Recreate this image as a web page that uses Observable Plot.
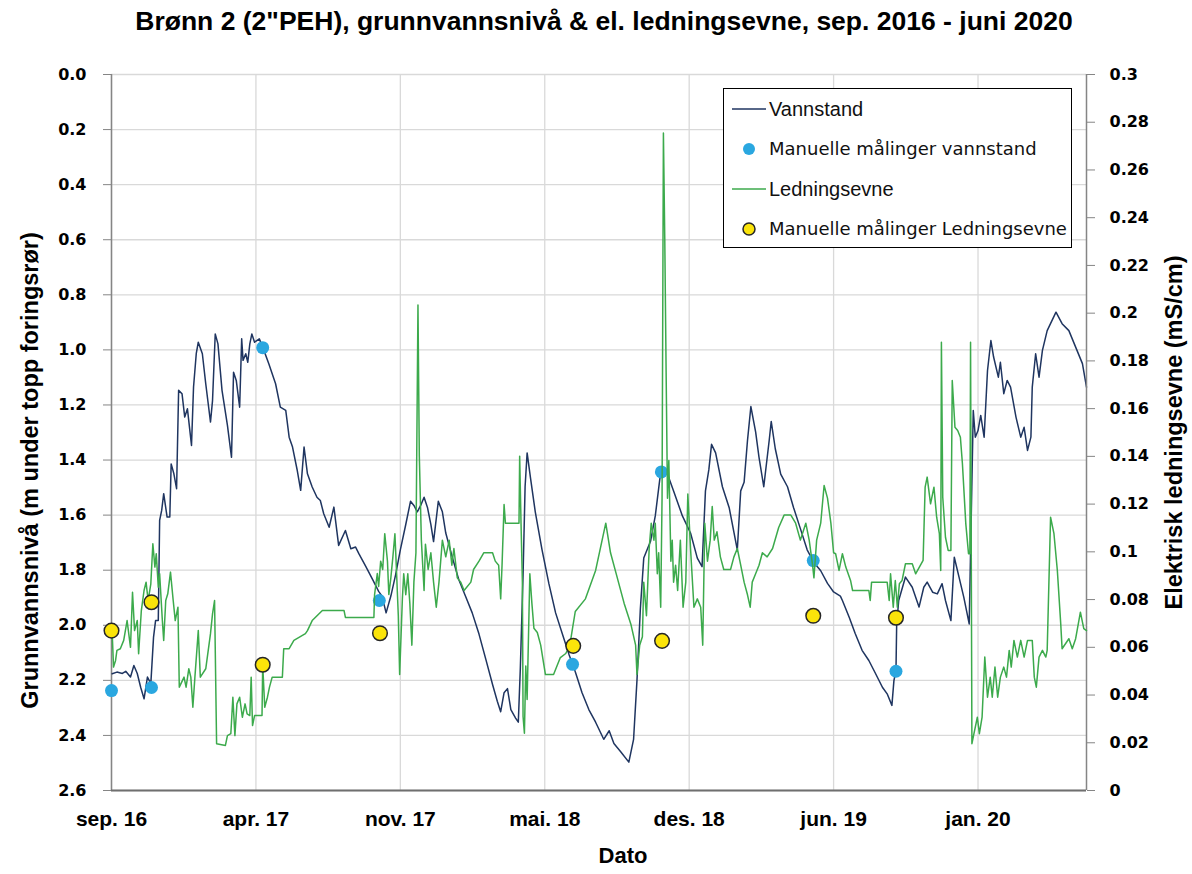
<!DOCTYPE html>
<html>
<head>
<meta charset="utf-8">
<script src="https://cdn.jsdelivr.net/npm/d3@7"></script>
<script src="https://cdn.jsdelivr.net/npm/@observablehq/plot@0.6"></script>
<style>
  body { margin: 0; background: #fff; }
  #wrap { position: relative; width: 1192px; height: 874px; overflow: hidden; background: #fff; }
  #title { position: absolute; left: 0; top: 6px; width: 1208px; text-align: center;
           font-family: "Liberation Sans", Arial, sans-serif;
           font-weight: bold; font-size: 26.5px; line-height: 30px; color: #000; }
  .layer { position: absolute; left: 0; top: 50px; }
  #legend { position: absolute; left: 723px; top: 88px; width: 347px; height: 158px;
            border: 1.5px solid #000; background: #fff; }
  .row { position: absolute; left: 0; height: 30px; width: 100%; }
  .row svg { position: absolute; left: 6px; top: 0; }
  .row span { position: absolute; left: 45px; top: 0; line-height: 30px; white-space: nowrap; color: #111; }
  .big { font-family: "Liberation Sans", Arial, sans-serif; font-size: 20px; }
  .small { font-family: "DejaVu Sans", Verdana, sans-serif; font-size: 18px; }
</style>
</head>
<body>
<div id="wrap">
  <div id="title"></div>
  <div id="p1" class="layer"></div>
  <div id="p2" class="layer"></div>
  <div id="legend"></div>
</div>
<script>
// ---------- data ----------
const titleText = "Brønn 2 (2\"PEH), grunnvannsnivå & el. ledningsevne, sep. 2016 - juni 2020";
const yLeftLabel = "Grunnvannsnivå (m under topp foringsrør)";
const yRightLabel = "Elektrisk ledningsevne (mS/cm)";
const xLabel = "Dato";
const legendLabels = ["Vannstand", "Manuelle målinger vannstand", "Ledningsevne", "Manuelle målinger Ledningsevne"];

// x: days since 2016-09-01
const startDate = "2016-09-01";
const xTickDays = [0, 213, 426, 639, 852, 1065, 1278];
const xTickLabels = ["sep. 16", "apr. 17", "nov. 17", "mai. 18", "des. 18", "jun. 19", "jan. 20"];
const xEndDay = 1438;
const depthTicks = [0, 0.2, 0.4, 0.6, 0.8, 1.0, 1.2, 1.4, 1.6, 1.8, 2.0, 2.2, 2.4, 2.6];
const ecTicks = [0, 0.02, 0.04, 0.06, 0.08, 0.1, 0.12, 0.14, 0.16, 0.18, 0.2, 0.22, 0.24, 0.26, 0.28, 0.3];

// Vannstand [day, m under topp foringsrør]
const vannstand = [
[1,2.176],[8,2.170],[16,2.175],[21,2.167],[28,2.188],[33,2.146],[38,2.175],[43,2.225],[48,2.267],[53,2.188],
[58,2.212],[62,2.043],[65,1.983],[69,1.983],[71,1.619],[74,1.583],[77,1.522],[82,1.607],[86,1.607],[88,1.414],
[92,1.450],[96,1.504],[99,1.147],[104,1.159],[108,1.244],[112,1.214],[118,1.347],[121,1.135],[125,1.014],[128,0.972],
[134,1.014],[139,1.123],[146,1.262],[149,1.184],[153,0.942],[157,0.978],[163,1.147],[171,1.274],[177,1.390],[180,1.081],
[184,1.111],[189,1.208],[192,0.960],[194,1.038],[198,1.014],[201,1.045],[204,0.978],[207,0.942],[211,0.972],[218,0.960],
[223,0.990],[232,1.050],[242,1.123],[249,1.208],[257,1.220],[262,1.317],[267,1.353],[274,1.438],[279,1.510],[284,1.353],
[289,1.450],[296,1.498],[303,1.535],[308,1.547],[313,1.595],[321,1.644],[328,1.571],[335,1.710],[345,1.656],[353,1.722],
[360,1.716],[365,1.741],[375,1.786],[385,1.833],[394,1.877],[399,1.894],[405,1.955],[412,1.894],[419,1.817],[426,1.726],
[434,1.634],[441,1.550],[446,1.565],[451,1.588],[456,1.565],[461,1.535],[466,1.572],[471,1.634],[475,1.696],[482,1.550],
[488,1.588],[493,1.665],[503,1.756],[512,1.833],[522,1.894],[532,1.955],[542,2.032],[552,2.123],[562,2.215],[569,2.276],
[574,2.314],[579,2.245],[584,2.230],[589,2.306],[596,2.337],[600,2.352],[603,2.154],[607,1.817],[610,1.497],[613,1.374],
[618,1.466],[625,1.588],[635,1.726],[645,1.848],[655,1.955],[665,2.032],[675,2.108],[684,2.169],[694,2.245],[704,2.306],
[714,2.352],[726,2.414],[734,2.383],[741,2.429],[751,2.459],[763,2.497],[770,2.414],[775,2.200],[780,1.940],[785,1.756],
[795,1.695],[802,1.603],[810,1.443],[820,1.451],[829,1.512],[842,1.603],[854,1.665],[864,1.756],[871,1.787],[876,1.512],
[881,1.435],[885,1.343],[891,1.374],[901,1.497],[911,1.573],[923,1.726],[928,1.512],[933,1.481],[938,1.329],[943,1.206],
[950,1.298],[955,1.390],[962,1.497],[970,1.329],[973,1.260],[979,1.359],[987,1.451],[997,1.497],[1006,1.573],[1016,1.649],
[1026,1.726],[1036,1.772],[1046,1.802],[1056,1.848],[1065,1.879],[1075,1.894],[1078,1.910],[1088,1.971],[1097,2.031],[1107,2.091],
[1117,2.128],[1127,2.176],[1137,2.225],[1144,2.249],[1151,2.291],[1154,2.200],[1157,2.167],[1158,2.000],[1161,1.910],[1171,1.825],
[1181,1.862],[1191,1.934],[1198,1.862],[1203,1.843],[1211,1.880],[1218,1.886],[1225,1.849],[1230,1.910],[1238,1.983],[1243,1.753],
[1250,1.825],[1257,1.898],[1265,1.995],[1271,1.220],[1274,1.317],[1278,1.293],[1282,1.238],[1287,1.317],[1292,1.075],[1297,0.966],
[1301,1.026],[1308,1.099],[1311,1.045],[1316,1.159],[1321,1.111],[1326,1.135],[1334,1.244],[1341,1.317],[1346,1.281],[1351,1.365],
[1356,1.317],[1358,1.135],[1363,1.014],[1368,1.099],[1373,1.002],[1380,0.930],[1393,0.863],[1402,0.905],[1412,0.930],[1422,0.990],
[1432,1.050],[1438,1.135]
];

// Manuelle målinger vannstand [day, m]
const manVannstand = [[0,2.237],[59,2.226],[223,0.992],[395,1.910],[680,2.142],[811,1.443],[1035,1.765],[1157,2.167]];

// Ledningsevne [day, mS/cm]
const ledningsevne = [
[1,0.0662],[3,0.0517],[6,0.0545],[8,0.0587],[13,0.0594],[18,0.0629],[23,0.0712],[28,0.0600],[31,0.0831],[34,0.0670],
[38,0.0712],[40,0.0573],[44,0.0754],[48,0.0838],[51,0.0873],[54,0.0796],[58,0.0866],[61,0.1034],[64,0.0936],[66,0.0992],
[69,0.0852],[71,0.0908],[75,0.0712],[77,0.0629],[80,0.0796],[83,0.0824],[87,0.0915],[91,0.0796],[94,0.0712],[98,0.0768],
[100,0.0433],[107,0.0475],[110,0.0433],[114,0.0510],[117,0.0475],[120,0.0349],[123,0.0475],[128,0.0670],[131,0.0475],[139,0.0510],
[146,0.0657],[149,0.0740],[152,0.0796],[155,0.0196],[168,0.0189],[171,0.0230],[176,0.0238],[179,0.0391],[182,0.0230],[185,0.0363],
[189,0.0391],[193,0.0307],[197,0.0363],[200,0.0321],[204,0.0314],[206,0.0475],[208,0.0272],[211,0.0314],[222,0.0314],[223,0.0528],
[226,0.0349],[230,0.0391],[233,0.0433],[237,0.0475],[252,0.0475],[254,0.0594],[262,0.0594],[269,0.0629],[286,0.0657],[289,0.0670],
[296,0.0712],[311,0.0754],[343,0.0754],[345,0.0725],[387,0.0725],[388,0.0821],[392,0.0909],[394,0.0855],[397,0.0961],[400,0.0926],
[403,0.1076],[407,0.0961],[409,0.0821],[412,0.0891],[415,0.0979],[418,0.1076],[420,0.0944],[423,0.0732],[425,0.0486],[429,0.0803],
[431,0.0908],[434,0.0820],[437,0.0908],[440,0.0785],[443,0.0609],[446,0.0873],[449,0.0996],[452,0.2034],[454,0.1401],[457,0.1049],
[461,0.0838],[463,0.1032],[467,0.0926],[471,0.0996],[475,0.0873],[479,0.0768],[483,0.0873],[488,0.1049],[493,0.0979],[498,0.1049],
[502,0.0944],[505,0.1014],[510,0.0891],[515,0.0873],[520,0.0838],[530,0.0873],[534,0.0926],[542,0.0961],[549,0.0996],[562,0.0996],
[566,0.0961],[571,0.0944],[574,0.0803],[576,0.0944],[579,0.1198],[581,0.1120],[601,0.1120],[602,0.1401],[604,0.1120],[606,0.0873],
[607,0.0310],[609,0.0240],[611,0.0522],[613,0.0381],[617,0.0908],[620,0.0785],[623,0.0680],[628,0.0662],[633,0.0609],[640,0.0486],
[652,0.0486],[657,0.0522],[662,0.0557],[670,0.0574],[676,0.0609],[680,0.0680],[684,0.0750],[699,0.0803],[714,0.0922],[729,0.1120],
[736,0.0996],[746,0.0891],[756,0.0785],[766,0.0697],[773,0.0609],[775,0.0486],[779,0.0609],[783,0.0644],[785,0.0873],[789,0.0732],
[793,0.1014],[796,0.1120],[800,0.1049],[802,0.1120],[805,0.0908],[807,0.0996],[810,0.0768],[812,0.1225],[814,0.2755],[816,0.2315],
[818,0.1752],[820,0.1225],[822,0.1383],[825,0.0961],[827,0.1049],[829,0.0873],[832,0.0944],[835,0.0838],[839,0.1049],[843,0.0768],
[847,0.0873],[850,0.1242],[854,0.1014],[859,0.0768],[864,0.0803],[869,0.0768],[872,0.0609],[875,0.1120],[879,0.0961],[883,0.1049],
[886,0.1190],[889,0.1049],[893,0.1084],[898,0.0979],[903,0.0926],[913,0.0926],[918,0.0979],[923,0.1014],[928,0.0944],[933,0.0873],
[938,0.0820],[942,0.0768],[945,0.0873],[950,0.0908],[955,0.0944],[960,0.0996],[967,0.0979],[975,0.1014],[984,0.1102],[992,0.1154],
[1002,0.1154],[1009,0.1120],[1016,0.1049],[1024,0.1120],[1029,0.1049],[1034,0.0944],[1036,0.0891],[1040,0.1049],[1046,0.1120],[1051,0.1278],
[1056,0.1225],[1061,0.1120],[1065,0.0996],[1068,0.0992],[1073,0.0922],[1078,0.0992],[1083,0.0936],[1090,0.0880],[1093,0.0838],[1117,0.0838],
[1119,0.0796],[1121,0.0873],[1144,0.0873],[1147,0.0796],[1149,0.0908],[1153,0.0768],[1156,0.0880],[1159,0.0768],[1162,0.0866],[1166,0.0880],
[1171,0.0950],[1181,0.0950],[1186,0.0908],[1197,0.0964],[1200,0.1271],[1203,0.1313],[1208,0.1201],[1213,0.1271],[1217,0.1145],[1221,0.1076],
[1223,0.0922],[1224,0.1878],[1226,0.1229],[1230,0.1061],[1234,0.1006],[1238,0.1006],[1240,0.1718],[1244,0.1522],[1248,0.1508],[1252,0.1480],
[1255,0.1369],[1260,0.1117],[1264,0.0992],[1266,0.0992],[1267,0.1878],[1269,0.0196],[1272,0.0238],[1277,0.0307],[1280,0.0238],[1284,0.0307],
[1288,0.0559],[1292,0.0391],[1296,0.0475],[1299,0.0391],[1303,0.0517],[1307,0.0391],[1311,0.0475],[1316,0.0517],[1320,0.0475],[1324,0.0587],
[1327,0.0517],[1331,0.0629],[1336,0.0559],[1341,0.0629],[1346,0.0559],[1351,0.0629],[1358,0.0629],[1361,0.0475],[1364,0.0433],[1368,0.0559],
[1373,0.0587],[1378,0.0559],[1380,0.0587],[1385,0.1145],[1390,0.1076],[1395,0.0922],[1400,0.0698],[1402,0.0594],[1412,0.0636],[1417,0.0594],
[1422,0.0636],[1429,0.0747],[1434,0.0678],[1438,0.0670]
];

// Manuelle målinger Ledningsevne [day, mS/cm]
const manLedningsevne = [[0,0.0670],[59,0.0789],[223,0.0527],[396,0.0659],[681,0.0606],[812,0.0627],[1035,0.0732],[1157,0.0724]];

// ---------- styles ----------
const colVann = "#1f3560";
const colManVann = "#2aa7e0";
const colLedn = "#3caa4c";
const colManLedn = "#fbe40a";
const gridCol = "#d9d9d9";
const axisCol = "#858585";
const sansFont = "Liberation Sans, Arial, sans-serif";
const wideFont = "DejaVu Sans, Verdana, sans-serif";

// ---------- build ----------
const DAY = 864e5;
const t0 = new Date(startDate + "T00:00:00Z").getTime();
const toDate = d => new Date(t0 + d * DAY);
const xTicks = xTickDays.map(toDate);
const xLabelMap = new Map(xTicks.map((t, i) => [+t, xTickLabels[i]]));

const W = 1192, H = 824;
const frame = {width: W, height: H, marginTop: 24, marginBottom: 84, marginLeft: 111, marginRight: 106};

document.getElementById("title").textContent = titleText;

const p1 = Plot.plot({
  ...frame,
  style: {background: "white", overflow: "visible"},
  x: {type: "utc", domain: [toDate(0), toDate(xEndDay)]},
  y: {domain: [0, 2.6], reverse: true},
  marks: [
    Plot.gridY(depthTicks, {stroke: gridCol, strokeOpacity: 1, strokeWidth: 1.3}),
    Plot.gridX(xTicks, {stroke: gridCol, strokeOpacity: 1, strokeWidth: 1.3}),
    Plot.axisY(depthTicks, {anchor: "left", tickSize: 8, tickPadding: 17, stroke: axisCol, fill: "#000",
      tickFormat: d3.format(".1f"), label: null, fontSize: 16, fontWeight: "bold", fontFamily: wideFont}),
    Plot.axisX(xTicks, {anchor: "bottom", tickSize: 0, tickPadding: 21, fill: "#000",
      tickFormat: d => xLabelMap.get(+d), label: null, fontSize: 21, fontWeight: "bold", fontFamily: sansFont}),
    Plot.ruleX([toDate(0)], {stroke: axisCol, strokeWidth: 1.5}),
    Plot.ruleY([2.6], {stroke: "#6f6f6f", strokeWidth: 2}),
    Plot.line(vannstand, {x: d => toDate(d[0]), y: d => d[1], stroke: colVann, strokeWidth: 1.5}),
    Plot.dot(manVannstand, {x: d => toDate(d[0]), y: d => d[1], r: 6.5, fill: colManVann, stroke: "none"}),
    Plot.text([yLeftLabel], {frameAnchor: "left", textAnchor: "middle", dx: -81, dy: 38, rotate: -90, fontSize: 23.5, fontWeight: "bold", fontFamily: sansFont, fill: "#000"}),
    Plot.text([xLabel], {frameAnchor: "bottom", textAnchor: "middle", dx: 24, dy: 72, fontSize: 22, fontWeight: "bold", fontFamily: sansFont, fill: "#000"})
  ]
});
document.getElementById("p1").append(p1);

const p2 = Plot.plot({
  ...frame,
  style: {background: "transparent", overflow: "visible"},
  x: {type: "utc", domain: [toDate(0), toDate(xEndDay)], axis: null},
  y: {domain: [0, 0.3]},
  marks: [
    Plot.axisY(ecTicks, {anchor: "right", tickSize: 8, tickPadding: 15, stroke: axisCol, fill: "#000",
      tickFormat: d => String(+d.toFixed(2)), label: null, fontSize: 16, fontWeight: "bold", fontFamily: wideFont}),
    Plot.ruleX([toDate(xEndDay)], {stroke: axisCol, strokeWidth: 1.5}),
    Plot.line(ledningsevne, {x: d => toDate(d[0]), y: d => d[1], stroke: colLedn, strokeWidth: 1.5}),
    Plot.dot(manLedningsevne, {x: d => toDate(d[0]), y: d => d[1], r: 7.3, fill: colManLedn, stroke: "#262626", strokeWidth: 1.5}),
    Plot.text([yRightLabel], {frameAnchor: "right", textAnchor: "middle", dx: 88, rotate: -90, fontSize: 23.5, fontWeight: "bold", fontFamily: sansFont, fill: "#000"})
  ]
});
document.getElementById("p2").append(p2);

// ---------- legend ----------
const legend = d3.select("#legend");
const rowTops = [5, 45, 85, 125];
const kinds = ["line", "dot", "line", "dot"];
const legendColors = [colVann, colManVann, colLedn, colManLedn];
legendLabels.forEach((lab, i) => {
  const row = legend.append("div").attr("class", "row").style("top", rowTops[i] + "px");
  const svg = row.append("svg").attr("width", 38).attr("height", 30);
  if (kinds[i] === "line") {
    svg.append("line").attr("x1", 2).attr("x2", 36).attr("y1", 15).attr("y2", 15)
      .attr("stroke", legendColors[i]).attr("stroke-width", 1.5);
  } else {
    svg.append("circle").attr("cx", 19).attr("cy", 15).attr("r", 6)
      .attr("fill", legendColors[i])
      .attr("stroke", i === 3 ? "#262626" : "none").attr("stroke-width", 1.5);
  }
  row.append("span").attr("class", kinds[i] === "line" ? "big" : "small").text(lab);
});
</script>
</body>
</html>
